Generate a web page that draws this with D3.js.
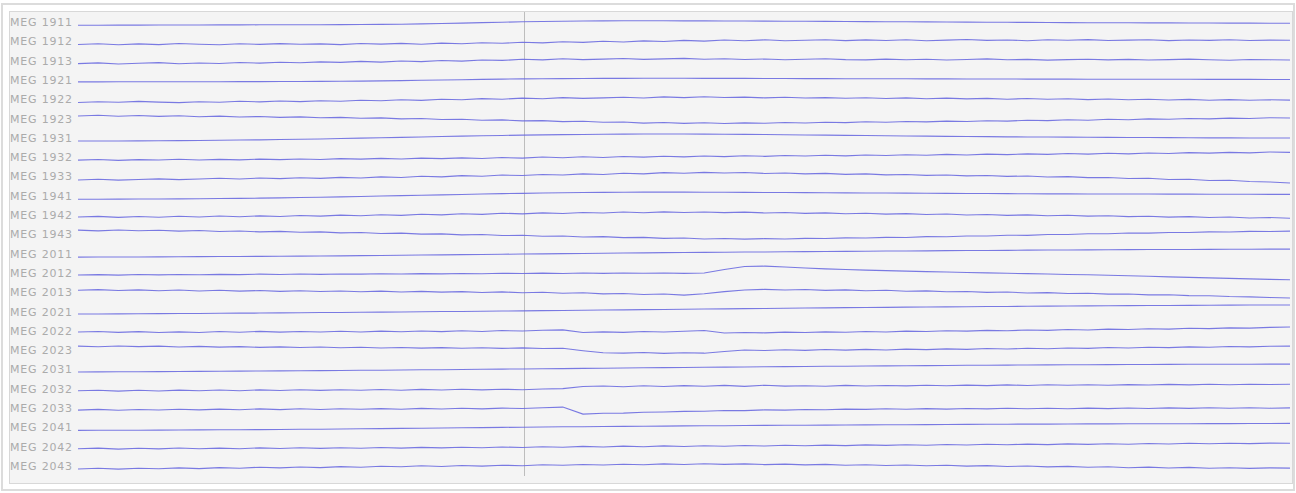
<!DOCTYPE html>
<html>
<head>
<meta charset="utf-8">
<script src="https://cdn.jsdelivr.net/npm/d3@7"></script>
<style>
  body { margin: 0; background: #fff; }
  svg { display: block; }
</style>
</head>
<body>
<svg id="chart" width="1296" height="493"></svg>
<script>
// channel names, top to bottom
var channels = ["MEG 1911", "MEG 1912", "MEG 1913", "MEG 1921", "MEG 1922", "MEG 1923",
                "MEG 1931", "MEG 1932", "MEG 1933", "MEG 1941", "MEG 1942", "MEG 1943",
                "MEG 2011", "MEG 2012", "MEG 2013", "MEG 2021", "MEG 2022", "MEG 2023",
                "MEG 2031", "MEG 2032", "MEG 2033", "MEG 2041", "MEG 2042", "MEG 2043"];

// sample index of the event marker
var eventSample = 22.1;

// signal per channel, one value per sample (arbitrary units, up = positive)
var meg1911 = [-1.2,-1.2,-1.1,-1.1,-1.0,-1.0,-1.0,-0.9,-0.9,-0.8,-0.8,
  -0.7,-0.7,-0.6,-0.5,-0.4,-0.2,0.1,0.5,0.9,1.4, 1.8,2.2,2.5,2.8,3.0,3.1,3.2,3.2,3.2,3.1,
  3.1,3.0,3.0,2.9,2.8,2.7,2.6,2.5,2.4,2.3, 2.2,2.1,2.0,1.9,1.8,1.7,1.6,1.5,1.4,1.3,
  1.3,1.2,1.1,1.1,1.0,1.0,0.9,0.9,0.8,0.7];
var meg1912 = [-1.2,-0.4,-1.5,-0.6,-1.3,-0.2,-1.0,-1.4,-0.5,-1.1,-0.3,
  -1.0,-0.6,-1.3,-0.2,-0.8,-0.1,-0.9,0.2,-0.4,0.6, 0.0,1.0,0.4,1.5,0.9,2.0,1.3,2.4,1.8,2.9,
  2.2,3.3,2.6,3.5,2.5,3.1,3.6,2.7,3.4,2.8, 3.5,2.6,3.2,3.8,2.9,3.3,2.6,3.5,3.0,3.7,
  2.8,3.2,3.6,2.7,3.3,2.9,3.5,2.8,3.2,3.0];
var meg1913 = [-1.0,-0.3,-1.4,-0.7,0.0,-1.1,-0.4,-0.9,0.1,-0.5,0.4,
  -0.2,0.7,0.2,1.2,0.5,1.6,1.0,2.1,1.5,2.6, 2.2,3.3,2.7,3.8,3.0,3.5,4.1,3.2,3.7,4.2,
  3.4,3.9,3.1,3.6,2.8,3.4,3.9,3.0,2.7,3.5, 2.9,3.3,2.6,3.1,3.7,2.8,3.2,2.5,3.0,3.4,
  2.7,3.2,2.6,3.0,3.5,2.9,2.4,3.1,2.8,2.6];
var meg1921 = [0.0,0.0,0.1,0.1,0.1,0.2,0.2,0.2,0.3,0.3,0.4,
  0.4,0.5,0.6,0.8,1.0,1.3,1.6,1.9,2.2,2.5, 2.8,3.0,3.2,3.3,3.4,3.5,3.5,3.6,3.6,3.6,
  3.5,3.5,3.5,3.4,3.4,3.3,3.3,3.2,3.2,3.1, 3.1,3.0,3.0,2.9,2.9,2.9,2.8,2.8,2.8,2.7,
  2.7,2.7,2.6,2.6,2.6,2.5,2.5,2.5,2.4,2.4];
var meg1922 = [-1.3,-0.5,-1.1,-0.2,-0.9,-1.4,-0.6,-1.0,-0.1,-0.7,0.2,
  -0.4,0.5,-0.1,1.0,0.4,1.4,0.8,2.0,1.5,2.6, 2.0,3.1,2.5,3.6,2.8,3.3,4.0,3.2,4.3,3.6,
  4.4,3.7,4.1,3.3,3.9,3.2,3.6,2.9,3.5,2.7, 3.3,2.5,3.1,2.3,2.8,2.0,2.7,1.9,2.5,1.6,
  2.2,1.4,2.0,1.2,1.8,0.9,1.6,1.0,1.4,1.1];
var meg1923 = [4.5,5.2,4.3,5.0,4.1,4.8,3.8,4.4,3.5,4.0,3.1,
  3.6,2.7,3.1,2.2,2.6,1.6,2.0,1.0,1.3,0.3, 0.6,-0.4,-0.1,-1.1,-0.8,-1.8,-1.5,-2.6,-2.0,-2.9,
  -2.3,-3.0,-2.4,-2.8,-2.0,-2.5,-1.7,-2.1,-1.3,-1.8, -1.0,-1.4,-0.6,-1.0,-0.2,-0.6,0.3,-0.1,0.7,0.3,
  1.2,0.8,1.6,1.2,2.0,1.6,2.4,2.0,2.8,2.5];
var meg1931 = [-1.2,-1.2,-1.1,-1.0,-0.9,-0.8,-0.6,-0.4,-0.2,0.0,0.3,
  0.6,0.9,1.3,1.7,2.1,2.5,2.9,3.3,3.7,4.1, 4.4,4.7,5.0,5.2,5.4,5.6,5.7,5.8,5.8,5.8,
  5.7,5.6,5.5,5.3,5.1,4.9,4.7,4.5,4.3,4.1, 3.9,3.7,3.5,3.3,3.2,3.0,2.9,2.8,2.7,2.6,
  2.5,2.4,2.3,2.2,2.1,2.0,2.0,1.9,1.9,1.8];
var meg1932 = [-1.0,-0.3,-1.2,-0.5,-0.9,-0.1,-0.8,-0.2,-0.7,0.0,-0.5,
  0.2,-0.3,0.5,0.0,0.8,0.2,1.0,0.5,1.3,0.7, 1.6,1.0,2.1,1.4,2.4,1.7,2.6,2.0,2.9,2.3,
  3.1,2.5,3.4,2.8,3.7,3.1,3.9,3.3,4.2,3.6, 4.4,3.9,4.8,4.2,5.0,4.5,5.3,4.8,5.6,5.0,
  5.9,5.3,6.2,5.7,6.5,6.0,6.8,6.3,7.1,6.8];
var meg1933 = [-1.5,-0.8,-1.7,-1.0,-0.4,-1.2,-0.5,0.2,-0.6,0.4,-0.2,
  0.7,0.1,1.1,0.5,1.6,1.0,2.2,1.6,2.8,2.2, 3.4,2.9,4.0,3.5,4.6,4.0,5.2,4.6,5.8,5.2,
  6.1,5.4,5.9,5.0,5.5,4.6,5.1,4.1,4.6,3.6, 4.0,3.1,3.5,2.6,2.9,2.1,2.4,1.5,1.8,0.8,
  1.0,-0.1,0.2,-1.0,-0.8,-2.0,-1.8,-3.0,-3.5,-4.5];
var meg1941 = [-1.5,-1.5,-1.4,-1.3,-1.2,-1.1,-1.0,-0.8,-0.6,-0.4,-0.1,
  0.2,0.5,0.9,1.3,1.7,2.1,2.5,2.9,3.3,3.7, 4.1,4.4,4.7,5.0,5.2,5.4,5.5,5.6,5.6,5.6,
  5.5,5.5,5.4,5.3,5.2,5.1,5.0,4.9,4.8,4.7, 4.6,4.5,4.4,4.3,4.2,4.1,4.0,3.9,3.9,3.8,
  3.8,3.7,3.7,3.6,3.6,3.5,3.5,3.5,3.4,3.4];
var meg1942 = [0.0,0.7,-0.3,0.5,-0.2,0.8,0.1,1.0,0.3,1.2,0.6,
  1.5,0.9,1.9,1.3,2.3,1.7,2.8,2.2,3.3,2.7, 3.8,3.2,4.2,3.6,4.6,4.0,5.0,4.3,5.2,4.6,
  5.1,4.4,4.9,4.1,4.6,3.7,4.2,3.3,3.8,2.9, 3.4,2.5,3.0,2.1,2.6,1.7,2.2,1.3,1.8,0.9,
  1.3,0.4,0.8,-0.1,0.4,-0.5,0.0,-0.9,-0.5,-1.2];
var meg1943 = [6.2,5.5,6.4,5.6,6.1,5.2,5.8,4.9,5.4,4.5,5.0,
  4.1,4.5,3.5,3.9,2.9,3.2,2.2,2.5,1.5,1.8, 0.8,1.1,0.1,0.4,-0.6,-0.3,-1.3,-1.0,-2.0,-1.7,
  -2.6,-2.2,-2.8,-2.3,-2.6,-2.0,-2.2,-1.5,-1.7,-1.0, -1.1,-0.3,-0.4,0.4,0.3,1.1,1.0,1.8,1.8,2.6,
  2.6,3.3,3.2,3.9,3.9,4.5,4.4,5.0,4.8,5.2];
var meg2011 = [-1.5,-1.4,-1.4,-1.3,-1.2,-1.1,-1.0,-0.9,-0.8,-0.7,-0.6,
  -0.5,-0.4,-0.2,0.0,0.2,0.4,0.6,0.8,1.0,1.2, 1.4,1.6,1.8,2.0,2.2,2.4,2.6,2.8,3.0,3.1,
  3.3,3.4,3.6,3.7,3.9,4.0,4.2,4.3,4.4,4.6, 4.7,4.8,5.0,5.1,5.2,5.3,5.5,5.6,5.7,5.8,
  5.9,6.0,6.1,6.2,6.2,6.3,6.4,6.4,6.5,6.5];
var meg2012 = [0.0,0.3,-0.2,0.4,0.1,0.5,0.2,0.6,0.3,0.8,0.5,
  0.9,0.6,1.0,0.8,1.2,0.9,1.3,1.1,1.5,1.2, 1.7,1.4,1.8,1.5,1.9,1.6,2.0,1.7,1.9,1.6,
  2.0,5.5,8.5,8.8,8.0,7.0,6.1,5.4,4.8,4.3, 3.8,3.3,2.9,2.5,2.1,1.7,1.3,0.9,0.5,0.2,
  -0.3,-0.8,-1.3,-1.9,-2.4,-2.9,-3.4,-3.9,-4.4,-4.8];
var meg2013 = [4.0,4.6,3.8,4.4,3.5,4.2,3.3,4.0,3.1,3.7,2.9,
  3.5,2.7,3.3,2.5,3.1,2.3,2.9,2.1,2.6,1.8, 2.4,1.5,2.0,1.0,1.5,0.4,0.8,-0.3,0.2,-0.9,
  0.5,2.6,4.3,4.9,4.2,4.8,3.9,4.4,3.5,4.0, 3.0,3.4,2.5,2.8,1.9,2.2,1.3,1.6,0.7,1.0,
  0.1,0.3,-0.6,-0.5,-1.4,-1.5,-2.3,-2.6,-3.3,-3.8];
var meg2021 = [-0.5,-0.4,-0.3,-0.2,-0.1,0.0,0.1,0.3,0.4,0.5,0.7,
  0.8,1.0,1.1,1.3,1.4,1.6,1.8,2.0,2.1,2.3, 2.5,2.7,2.9,3.1,3.3,3.5,3.7,3.9,4.1,4.3,
  4.5,4.7,4.9,5.1,5.3,5.5,5.7,5.9,6.0,6.2, 6.4,6.5,6.7,6.8,7.0,7.1,7.3,7.4,7.5,7.7,
  7.8,7.9,8.0,8.1,8.2,8.3,8.4,8.5,8.5,8.6];
var meg2022 = [0.8,1.4,0.5,1.2,0.3,1.0,0.4,1.3,0.6,1.5,0.7,
  1.4,0.8,1.6,0.9,1.7,1.1,1.9,1.2,2.1,1.4, 2.3,1.9,2.6,3.0,0.3,1.0,0.5,1.3,0.8,1.6,
  2.4,-0.2,0.4,0.0,0.7,0.3,1.0,0.6,1.4,0.9, 1.7,1.3,2.1,1.7,2.5,2.1,2.9,2.5,3.3,2.9,
  3.7,3.3,4.1,3.7,4.6,4.2,5.0,4.7,5.5,5.8];
var meg2023 = [6.0,5.4,6.2,5.5,6.0,5.2,5.8,5.0,5.5,4.8,5.3,
  4.6,5.1,4.4,4.9,4.2,4.7,4.0,4.5,3.9,4.4, 3.8,4.3,3.7,3.9,1.5,-0.6,-1.0,-0.4,-1.2,-0.6,
  -1.0,0.6,2.1,1.6,2.4,1.8,2.6,2.0,2.8,2.2, 3.0,2.5,3.3,2.8,3.6,3.1,3.9,3.4,4.2,3.8,
  4.6,4.1,4.9,4.5,5.3,4.9,5.6,5.3,5.9,6.0];
var meg2031 = [-0.5,-0.4,-0.3,-0.2,-0.1,0.0,0.1,0.2,0.4,0.5,0.6,
  0.8,0.9,1.0,1.2,1.3,1.5,1.7,1.8,2.0,2.2, 2.4,2.5,2.7,2.9,3.1,3.3,3.5,3.7,3.9,4.0,
  4.2,4.4,4.5,4.7,4.9,5.0,5.2,5.3,5.5,5.6, 5.8,5.9,6.0,6.2,6.3,6.4,6.5,6.6,6.7,6.8,
  6.9,7.0,7.0,7.1,7.2,7.2,7.3,7.3,7.4,7.4];
var meg2032 = [0.0,0.6,-0.3,0.5,-0.2,0.7,0.0,0.8,0.1,0.9,0.3,
  1.0,0.4,1.1,0.5,1.3,0.6,1.4,0.8,1.5,0.9, 1.6,1.1,1.8,2.2,4.3,4.8,4.1,5.0,4.3,5.2,
  4.5,5.4,4.4,5.6,4.7,5.1,4.6,5.4,4.8,5.3, 4.9,5.6,5.0,5.7,5.2,5.9,5.3,6.0,5.5,6.1,
  5.6,6.2,5.8,6.4,5.9,6.5,6.1,6.6,6.3,6.5];
var meg2033 = [0.0,0.7,-0.2,0.6,0.1,0.9,0.2,1.0,0.4,1.2,0.5,
  1.3,0.6,1.4,0.8,1.5,0.9,1.7,1.1,1.9,1.2, 2.0,1.6,2.4,3.0,-4.0,-3.2,-3.0,-2.2,-1.9,-1.3,
  -1.1,-0.4,-0.5,0.2,0.0,0.6,0.4,1.0,0.7,1.3, 0.9,1.5,1.0,1.6,1.2,1.8,1.3,1.9,1.4,2.0,
  1.5,2.1,1.6,2.2,1.7,2.3,1.8,2.3,1.9,2.2];
var meg2041 = [-1.0,-0.9,-0.9,-0.8,-0.7,-0.6,-0.5,-0.4,-0.3,-0.2,-0.1,
  0.1,0.2,0.4,0.6,0.8,1.0,1.2,1.4,1.6,1.8, 2.0,2.2,2.4,2.6,2.7,2.9,3.0,3.2,3.3,3.5,
  3.6,3.7,3.9,4.0,4.1,4.2,4.3,4.4,4.5,4.6, 4.7,4.8,4.9,5.0,5.1,5.2,5.3,5.3,5.4,5.5,
  5.5,5.6,5.6,5.7,5.7,5.8,5.8,5.9,5.9,6.0];
var meg2042 = [0.0,0.6,-0.4,0.5,-0.2,0.7,-0.1,0.6,0.0,0.8,0.2,
  0.9,0.3,1.0,0.4,1.2,0.6,1.3,0.8,1.5,0.9, 1.7,1.2,2.0,1.4,2.3,1.7,2.6,2.0,2.8,2.2,
  3.0,2.5,3.2,2.7,3.4,2.9,3.6,3.1,3.8,3.3, 4.0,3.5,4.2,3.7,4.4,3.9,4.6,4.1,4.8,4.3,
  5.0,4.5,5.2,4.7,5.4,4.9,5.5,5.1,5.6,5.4];
var meg2043 = [-1.0,-0.3,-1.1,-0.2,-0.8,0.1,-0.6,0.4,-0.3,0.8,0.1,
  1.0,0.4,1.4,0.8,1.8,1.2,2.2,1.5,2.5,1.9, 2.8,2.3,3.2,2.7,3.5,3.0,3.8,3.3,4.1,3.5,
  4.2,3.6,4.1,3.4,3.9,3.1,3.6,2.8,3.3,2.5, 3.0,2.2,2.7,1.9,2.4,1.5,2.0,1.1,1.6,0.7,
  1.2,0.3,0.9,0.0,0.6,-0.2,0.3,-0.4,0.1,-0.1];

var traces = [meg1911, meg1912, meg1913, meg1921, meg1922, meg1923,
              meg1931, meg1932, meg1933, meg1941, meg1942, meg1943,
              meg2011, meg2012, meg2013, meg2021, meg2022, meg2023,
              meg2031, meg2032, meg2033, meg2041, meg2042, meg2043];

var svg = d3.select("#chart");

// outer frame + inner panel
svg.append("rect")
  .attr("x", 2).attr("y", 4)
  .attr("width", 1292).attr("height", 486)
  .attr("fill", "#fff")
  .attr("stroke", "#dcdcdc")
  .attr("stroke-width", 2);

svg.append("rect")
  .attr("x", 9.5).attr("y", 11.5)
  .attr("width", 1283).attr("height", 472)
  .attr("fill", "#f4f4f4")
  .attr("stroke", "#d8d8d8");

var nSamples = meg1911.length;

var x = d3.scaleLinear()
  .domain([0, nSamples - 1])
  .range([78, 1290]);

var row = d3.scalePoint()
  .domain(channels)
  .range([24, 468]);

// per-channel amplitude scale (centred on the row baseline)
var amp = d3.scaleLinear()
  .domain([-10, 10])
  .range([10, -10]);

// event marker
svg.append("line")
  .attr("x1", Math.round(x(eventSample)) + 0.5)
  .attr("x2", Math.round(x(eventSample)) + 0.5)
  .attr("y1", 12)
  .attr("y2", 476)
  .attr("stroke", "#bdbdbd")
  .attr("stroke-width", 1);

// labels
svg.append("g")
  .selectAll("text")
  .data(channels)
  .enter().append("text")
  .attr("x", 10)
  .attr("y", function(d) { return row(d) + 2; })
  .attr("font-family", "DejaVu Sans")
  .attr("font-size", 11)
  .attr("letter-spacing", 0.8)
  .attr("fill", "#ababab")
  .text(function(d) { return d; });

// traces
var line = d3.line()
  .x(function(d, i) { return x(i); });

svg.append("g")
  .selectAll("path")
  .data(traces)
  .enter().append("path")
  .attr("d", function(d, i) {
    var base = row(channels[i]);
    return line.y(function(v) { return base + amp(v); })(d);
  })
  .attr("fill", "none")
  .attr("stroke", "#6b6be0")
  .attr("stroke-width", 1.1)
  .attr("stroke-opacity", 0.9);
</script>
</body>
</html>
